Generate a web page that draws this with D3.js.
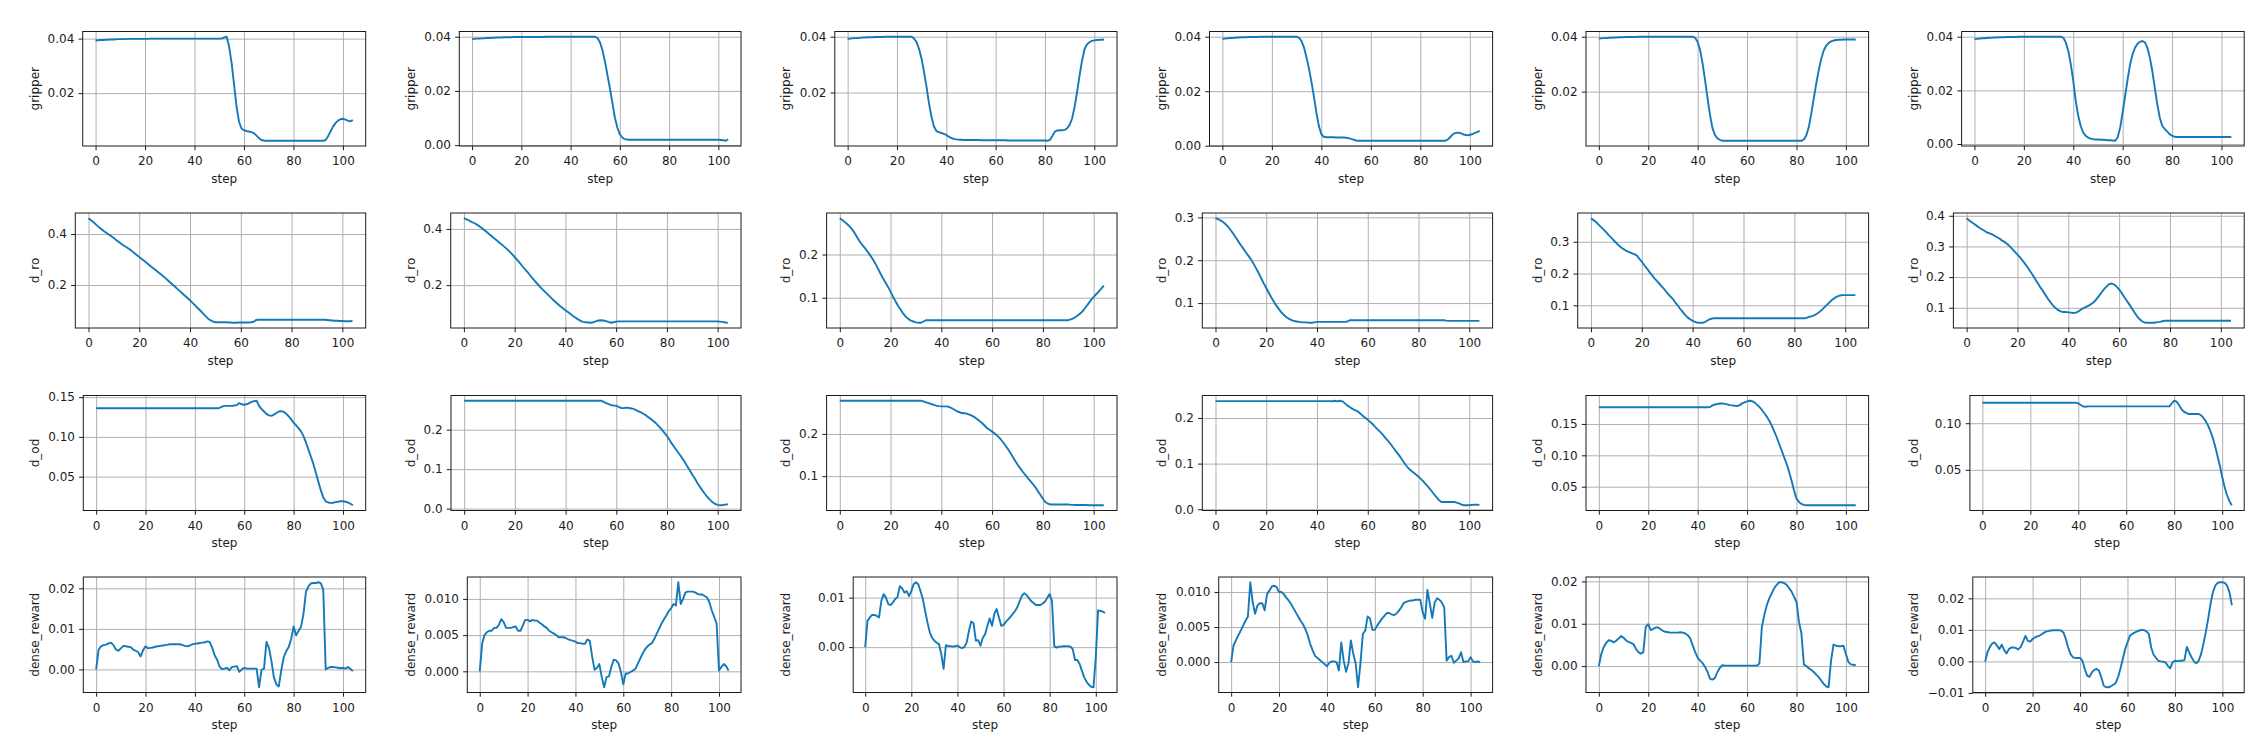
<!DOCTYPE html>
<html><head><meta charset="utf-8">
<script src="https://cdn.jsdelivr.net/npm/d3@7"></script>
<style>body{margin:0;background:#fff}svg{display:block}</style>
</head><body><svg id="c" width="2266" height="756"></svg>
<script>
const steps = d3.range(0, 105);
const metrics = ["gripper", "d_ro", "d_od", "dense_reward"];
const xLabel = "step";
const xTicks = [0, 20, 40, 60, 80, 100];

// gripper, one array per episode (columns 1..6)
const gripper1 = [.0393,.0394,.0395,.0395,.0396,.0396,.0397,.0397,.0397,.0398,
.0398,.0398,.0398,.0399,.0399,.0399,.0399,.0399,.0399,.0399,
.0399,.0399,.0400,.0400,.0400,.0400,.0400,.0400,.0400,.0400,
.0400,.0400,.0400,.0400,.0400,.0400,.0400,.0400,.0400,.0400,
.0400,.0400,.0400,.0400,.0400,.0400,.0400,.0400,.0400,.0400,
.0400,.0401,.0404,.0407,.0370,.0310,.0230,.0150,.0095,.0070,
.0064,.0061,.0059,.0057,.0053,.0045,.0035,.0028,.0026,.0025,
.0025,.0025,.0025,.0025,.0025,.0025,.0025,.0025,.0025,.0025,
.0025,.0025,.0025,.0025,.0025,.0025,.0025,.0025,.0025,.0025,
.0025,.0025,.0025,.0028,.0042,.0060,.0077,.0090,.0099,.0104,
.0106,.0103,.0099,.0096,.0101];
const gripper2 = [.0391,.0392,.0393,.0393,.0394,.0394,.0395,.0395,.0396,.0396,
.0397,.0397,.0397,.0398,.0398,.0398,.0398,.0399,.0399,.0399,
.0399,.0399,.0399,.0399,.0399,.0399,.0399,.0399,.0399,.0399,
.0400,.0400,.0400,.0400,.0400,.0400,.0400,.0400,.0400,.0400,
.0400,.0400,.0400,.0400,.0400,.0400,.0400,.0400,.0400,.0400,
.0400,.0394,.0378,.0348,.0306,.0257,.0208,.0154,.0101,.0064,
.0040,.0028,.0022,.0021,.0020,.0020,.0020,.0020,.0020,.0020,
.0020,.0020,.0020,.0020,.0020,.0020,.0020,.0020,.0020,.0020,
.0020,.0020,.0020,.0020,.0020,.0020,.0020,.0020,.0020,.0020,
.0020,.0020,.0020,.0020,.0020,.0020,.0020,.0020,.0020,.0020,
.0020,.0019,.0018,.0016,.0022];
const gripper3 = [.0392,.0393,.0394,.0395,.0395,.0396,.0397,.0397,.0398,.0398,
.0398,.0399,.0399,.0399,.0399,.0400,.0400,.0400,.0400,.0400,
.0400,.0400,.0400,.0400,.0400,.0400,.0400,.0393,.0379,.0355,
.0320,.0272,.0219,.0160,.0113,.0078,.0062,.0058,.0055,.0052,
.0048,.0042,.0037,.0034,.0032,.0031,.0031,.0030,.0030,.0030,
.0030,.0030,.0030,.0030,.0029,.0029,.0029,.0029,.0029,.0029,
.0029,.0029,.0029,.0029,.0029,.0028,.0028,.0028,.0028,.0028,
.0028,.0028,.0028,.0028,.0028,.0028,.0028,.0028,.0028,.0028,
.0028,.0027,.0030,.0044,.0060,.0064,.0065,.0065,.0066,.0072,
.0084,.0107,.0148,.0201,.0260,.0313,.0354,.0372,.0380,.0385,
.0387,.0388,.0389,.0389,.0390];
const gripper4 = [.0392,.0393,.0394,.0395,.0395,.0396,.0397,.0397,.0398,.0398,
.0398,.0399,.0399,.0399,.0399,.0400,.0400,.0400,.0400,.0400,
.0400,.0400,.0400,.0400,.0400,.0400,.0400,.0400,.0400,.0400,
.0400,.0396,.0384,.0360,.0324,.0282,.0234,.0180,.0121,.0072,
.0042,.0033,.0031,.0031,.0031,.0031,.0030,.0030,.0030,.0030,
.0029,.0028,.0025,.0022,.0019,.0018,.0018,.0018,.0018,.0018,
.0018,.0018,.0018,.0018,.0018,.0018,.0018,.0018,.0018,.0018,
.0018,.0018,.0018,.0018,.0018,.0018,.0018,.0018,.0018,.0018,
.0018,.0018,.0018,.0018,.0018,.0018,.0018,.0018,.0018,.0018,
.0018,.0022,.0031,.0041,.0046,.0048,.0047,.0043,.0040,.0038,
.0040,.0042,.0047,.0050,.0055];
const gripper5 = [.0393,.0394,.0395,.0395,.0396,.0396,.0397,.0397,.0398,.0398,
.0398,.0399,.0399,.0399,.0399,.0399,.0400,.0400,.0400,.0400,
.0400,.0400,.0400,.0400,.0400,.0400,.0400,.0400,.0400,.0400,
.0400,.0400,.0400,.0400,.0400,.0400,.0400,.0400,.0400,.0396,
.0381,.0351,.0302,.0242,.0176,.0115,.0067,.0042,.0030,.0024,
.0021,.0021,.0021,.0021,.0021,.0021,.0021,.0021,.0021,.0021,
.0021,.0021,.0021,.0021,.0021,.0021,.0021,.0021,.0021,.0021,
.0021,.0021,.0021,.0021,.0021,.0021,.0021,.0021,.0021,.0021,
.0021,.0021,.0021,.0026,.0041,.0071,.0120,.0175,.0229,.0277,
.0319,.0349,.0367,.0377,.0383,.0386,.0388,.0389,.0389,.0390,
.0390,.0390,.0390,.0390,.0390];
const gripper6 = [.0391,.0392,.0393,.0394,.0394,.0395,.0396,.0396,.0397,.0397,
.0398,.0398,.0398,.0399,.0399,.0399,.0399,.0399,.0400,.0400,
.0400,.0400,.0400,.0400,.0400,.0400,.0400,.0400,.0400,.0400,
.0400,.0400,.0400,.0400,.0400,.0400,.0396,.0378,.0347,.0297,
.0235,.0161,.0105,.0068,.0043,.0031,.0024,.0020,.0018,.0017,
.0017,.0016,.0016,.0015,.0014,.0014,.0013,.0012,.0025,.0062,
.0118,.0179,.0241,.0297,.0334,.0359,.0374,.0381,.0384,.0379,
.0359,.0322,.0272,.0210,.0149,.0099,.0068,.0056,.0047,.0037,
.0031,.0027,.0026,.0026,.0026,.0026,.0026,.0026,.0026,.0026,
.0026,.0026,.0026,.0026,.0026,.0026,.0026,.0026,.0026,.0026,
.0026,.0026,.0026,.0026,.0026];

// d_ro
const dro1 = [.462,.454,.446,.437,.428,.420,.412,.405,.398,.391,
.384,.376,.369,.361,.354,.348,.341,.334,.326,.318,
.310,.302,.294,.286,.278,.270,.262,.254,.246,.238,
.230,.221,.212,.203,.194,.185,.176,.167,.158,.149,
.140,.130,.120,.110,.100,.090,.079,.069,.062,.057,
.054,.054,.054,.054,.054,.053,.053,.052,.052,.053,
.053,.053,.053,.053,.054,.056,.063,.064,.064,.064,
.064,.064,.064,.064,.064,.064,.064,.064,.064,.064,
.064,.064,.064,.064,.064,.064,.064,.064,.064,.064,
.064,.064,.064,.064,.063,.062,.061,.060,.060,.059,
.059,.058,.058,.058,.059];
const dro2 = [.438,.434,.430,.425,.421,.416,.410,.403,.396,.389,
.381,.374,.366,.359,.351,.344,.336,.328,.319,.310,
.300,.290,.279,.268,.257,.247,.236,.225,.214,.204,
.194,.185,.176,.167,.158,.149,.141,.133,.125,.118,
.111,.104,.097,.090,.084,.078,.073,.069,.068,.067,
.066,.068,.071,.074,.075,.074,.072,.069,.066,.068,
.070,.071,.071,.071,.071,.071,.071,.071,.071,.071,
.071,.071,.071,.071,.071,.071,.071,.071,.071,.071,
.071,.071,.071,.071,.071,.071,.071,.071,.071,.071,
.071,.071,.071,.071,.071,.071,.071,.071,.071,.071,
.071,.070,.069,.067,.066];
const dro3 = [.284,.280,.275,.270,.264,.257,.248,.238,.229,.221,
.214,.206,.198,.189,.179,.168,.156,.145,.135,.125,
.114,.102,.091,.081,.072,.063,.056,.051,.047,.045,
.043,.042,.042,.045,.048,.048,.048,.048,.048,.048,
.048,.048,.048,.048,.048,.048,.048,.048,.048,.048,
.048,.048,.048,.048,.048,.048,.048,.048,.048,.048,
.048,.048,.048,.048,.048,.048,.048,.048,.048,.048,
.048,.048,.048,.048,.048,.048,.048,.048,.048,.048,
.048,.048,.048,.048,.048,.048,.048,.048,.048,.048,
.048,.050,.052,.056,.060,.065,.071,.079,.087,.095,
.102,.108,.114,.121,.128];
const dro4 = [.298,.296,.293,.289,.284,.278,.270,.262,.253,.244,
.235,.227,.218,.210,.202,.192,.181,.170,.158,.146,
.135,.124,.113,.103,.094,.086,.078,.072,.067,.063,
.060,.058,.057,.056,.055,.055,.055,.054,.054,.055,
.056,.056,.056,.056,.056,.056,.056,.056,.056,.056,
.056,.056,.057,.060,.060,.060,.060,.060,.060,.060,
.060,.060,.060,.060,.060,.060,.060,.060,.060,.060,
.060,.060,.060,.060,.060,.060,.060,.060,.060,.060,
.060,.060,.060,.060,.060,.060,.060,.060,.060,.060,
.060,.059,.0585,.0585,.0585,.0585,.0585,.0585,.0585,.0585,
.0585,.0585,.0585,.0585,.0585];
const dro5 = [.374,.368,.362,.354,.346,.338,.330,.321,.313,.304,
.296,.288,.281,.276,.271,.267,.264,.261,.257,.247,
.237,.226,.216,.205,.195,.185,.176,.167,.158,.149,
.139,.130,.122,.111,.101,.090,.080,.070,.062,.056,
.051,.048,.045,.045,.045,.048,.053,.057,.059,.059,
.059,.059,.059,.059,.059,.059,.059,.059,.059,.059,
.059,.059,.059,.059,.059,.059,.059,.059,.059,.059,
.059,.059,.059,.059,.059,.059,.059,.059,.059,.059,
.059,.059,.059,.059,.059,.061,.064,.066,.069,.074,
.080,.087,.095,.103,.111,.118,.124,.128,.131,.132,
.132,.132,.132,.132,.132];
const dro6 = [.392,.385,.379,.373,.367,.361,.356,.351,.346,.343,
.339,.335,.330,.325,.319,.314,.308,.300,.291,.282,
.273,.264,.254,.243,.232,.219,.207,.193,.180,.167,
.155,.142,.129,.118,.107,.099,.092,.088,.086,.086,
.085,.084,.083,.084,.088,.094,.099,.103,.107,.112,
.118,.127,.138,.149,.160,.169,.177,.179,.176,.169,
.160,.148,.135,.123,.111,.098,.085,.073,.063,.056,
.052,.051,.051,.051,.051,.053,.054,.056,.0575,.0575,
.0575,.0575,.0575,.0575,.0575,.0575,.0575,.0575,.0575,.0575,
.0575,.0575,.0575,.0575,.0575,.0575,.0575,.0575,.0575,.0575,
.0575,.0575,.0575,.0575,.0575];

// d_od
const dod1 = [.136,.136,.136,.136,.136,.136,.136,.136,.136,.136,
.136,.136,.136,.136,.136,.136,.136,.136,.136,.136,
.136,.136,.136,.136,.136,.136,.136,.136,.136,.136,
.136,.136,.136,.136,.136,.136,.136,.136,.136,.136,
.136,.136,.136,.136,.136,.136,.136,.136,.136,.136,
.1365,.138,.139,.139,.139,.139,.1395,.140,.1425,.141,
.1405,.141,.1425,.144,.145,.1455,.139,.135,.132,.129,
.127,.1265,.128,.130,.132,.1325,.1315,.129,.126,.122,
.118,.1145,.111,.107,.101,.093,.084,.075,.066,.055,
.044,.033,.024,.019,.0175,.017,.0172,.018,.0185,.019,
.019,.0185,.0175,.016,.014];
const dod2 = [.2734,.2734,.2734,.2734,.2734,.2734,.2734,.2734,.2734,.2734,
.2734,.2734,.2734,.2734,.2734,.2734,.2734,.2734,.2734,.2734,
.2734,.2734,.2734,.2734,.2734,.2734,.2734,.2734,.2734,.2734,
.2734,.2734,.2734,.2734,.2734,.2734,.2734,.2734,.2734,.2734,
.2734,.2734,.2734,.2734,.2734,.2734,.2734,.2734,.2734,.2734,
.2734,.2734,.2734,.2734,.2734,.2705,.2675,.265,.262,.261,
.2605,.258,.2546,.255,.256,.255,.2538,.252,.249,.246,
.243,.239,.235,.230,.225,.220,.214,.207,.200,.192,
.184,.174,.164,.155,.146,.137,.128,.118,.107,.097,
.086,.076,.065,.055,.0456,.037,.0287,.022,.016,.012,
.0093,.0084,.009,.010,.011];
const dod3 = [.2787,.2787,.2787,.2787,.2787,.2787,.2787,.2787,.2787,.2787,
.2787,.2787,.2787,.2787,.2787,.2787,.2787,.2787,.2787,.2787,
.2787,.2787,.2787,.2787,.2787,.2787,.2787,.2787,.2787,.2787,
.2787,.2787,.2785,.277,.2748,.273,.2709,.269,.267,.266,
.2654,.2654,.2654,.264,.2614,.258,.2543,.252,.2496,.249,
.248,.246,.2433,.240,.2354,.231,.226,.220,.2142,.210,
.2055,.201,.1961,.190,.1827,.175,.1661,.157,.1472,.137,
.1276,.119,.111,.1035,.096,.089,.0819,.074,.0646,.056,
.0465,.0386,.0346,.033,.033,.033,.033,.033,.033,.033,
.033,.032,.032,.0315,.0315,.0315,.0315,.0315,.031,.031,
.031,.031,.031,.031,.031];
const dod4 = [.237,.237,.237,.237,.237,.237,.237,.237,.237,.237,
.237,.237,.237,.237,.237,.237,.237,.237,.237,.237,
.237,.237,.237,.237,.237,.237,.237,.237,.237,.237,
.237,.237,.237,.237,.237,.237,.237,.237,.237,.237,
.237,.237,.237,.237,.237,.237,.2365,.2378,.2365,.2378,
.2364,.232,.227,.2235,.220,.217,.2145,.210,.205,.2005,
.1964,.191,.1862,.180,.1745,.169,.1629,.156,.1498,.143,
.1353,.128,.1207,.113,.1047,.097,.0902,.085,.0807,.076,
.0713,.066,.0604,.054,.048,.041,.0335,.027,.0204,.016,
.016,.016,.016,.016,.016,.0145,.013,.0102,.0087,.0087,
.0087,.0095,.010,.0102,.0095];
const dod5 = [.1765,.1765,.1765,.1765,.1765,.1765,.1765,.1765,.1765,.1765,
.1765,.1765,.1765,.1765,.1765,.1765,.1765,.1765,.1765,.1765,
.1765,.1765,.1765,.1765,.1765,.1765,.1765,.1765,.1765,.1765,
.1765,.1765,.1765,.1765,.1765,.1765,.1765,.1765,.1765,.1765,
.1765,.1765,.1765,.1765,.1765,.177,.1796,.181,.1817,.1825,
.1828,.182,.1812,.180,.1796,.179,.1786,.180,.1828,.1845,
.186,.187,.1865,.1844,.1807,.177,.1723,.167,.1616,.155,
.1474,.138,.1288,.118,.1077,.097,.0865,.074,.060,.0442,
.0309,.0257,.0225,.0209,.0204,.0204,.0204,.0204,.0204,.0204,
.0204,.0204,.0204,.0204,.0204,.0204,.0204,.0204,.0204,.0204,
.0204,.0204,.0204,.0204,.0204];
const dod6 = [.122,.122,.122,.122,.122,.122,.122,.122,.122,.122,
.122,.122,.122,.122,.122,.122,.122,.122,.122,.122,
.122,.122,.122,.122,.122,.122,.122,.122,.122,.122,
.122,.122,.122,.122,.122,.122,.122,.122,.122,.122,
.1213,.1195,.1181,.1177,.118,.118,.118,.118,.118,.118,
.118,.118,.118,.118,.118,.118,.118,.118,.118,.118,
.118,.118,.118,.118,.118,.118,.118,.118,.118,.118,
.118,.118,.118,.118,.118,.118,.118,.118,.118,.1213,
.1241,.1231,.1195,.1152,.1124,.111,.1099,.1099,.1099,.1099,
.1099,.1089,.1064,.1028,.0982,.0922,.0851,.0762,.0656,.055,
.0426,.0319,.023,.0167,.012];

// dense_reward
const reward1 = [0,.0049,.0057,.006,.0061,.0064,.0066,.006,.0049,.0046,
.0052,.0058,.0057,.0056,.0055,.0049,.0046,.0043,.0032,.0047,
.0057,.0052,.0053,.0054,.0056,.0057,.0058,.0059,.006,.0061,
.0062,.0062,.0062,.0062,.0062,.006,.0058,.0057,.0059,.0062,
.0063,.0064,.0065,.0066,.0067,.0069,.0068,.0054,.0035,.0024,
.0007,.0001,.0002,.0004,-.0002,.0006,.0007,.0008,-.0006,0,
.0004,.0002,.0002,.0002,.0002,.0002,-.0044,-.0001,.0002,.0068,
.0053,.0021,-.0019,-.0037,-.0042,-.0002,.003,.0045,.0055,.0075,
.0106,.0084,.0095,.0105,.0137,.0191,.0205,.0212,.0213,.0213,
.0215,.0213,.0197,0,.0004,.0006,.0006,.0005,.0004,.0003,
.0004,.0002,.0006,.0001,-.0004];
const reward2 = [0,.0038,.005,.0054,.0056,.0056,.006,.006,.0064,.0072,
.0068,.006,.006,.006,.0061,.0062,.0056,.0056,.0063,.0071,
.0071,.0069,.0071,.007,.007,.0067,.0065,.0062,.006,.0056,
.0054,.0052,.005,.0047,.0047,.0047,.0046,.0044,.0043,.0042,
.0041,.0039,.0039,.0038,.0038,.0044,.0042,.002,.0002,.0005,
.001,-.0008,-.0022,-.0008,-.0007,.0006,.0016,.0015,.0011,-.0001,
-.0018,-.0003,-.0003,-.0001,.0001,.0003,.001,.0017,.0024,.003,
.0034,.0037,.0039,.0045,.0052,.0059,.0066,.0072,.0077,.0083,
.0087,.0093,.0091,.0123,.0093,.01,.0109,.011,.011,.011,
.0109,.0107,.0106,.0106,.0104,.0102,.0095,.0084,.0075,.0066,
.0001,.0006,.001,.0007,.0001];
const reward3 = [0,.0053,.006,.0065,.0065,.0063,.006,.0093,.0107,.01,
.0087,.0085,.009,.0097,.0101,.0123,.0119,.011,.0113,.0103,
.0113,.0127,.0131,.0127,.0113,.0097,.0073,.005,.003,.0019,
.0013,.0009,.0006,-.0014,-.0044,.0004,.0002,.0002,.0001,.0002,
.0003,0,-.0002,0,.0009,.0033,.0052,.0048,.0013,.0014,
.0003,.0019,.0026,.0043,.0058,.0043,.0067,.0077,.006,.0043,
.0045,.0051,.0056,.0061,.0067,.0073,.0081,.0093,.0104,.0109,
.0105,.0099,.0093,.0089,.0085,.0085,.0085,.0088,.0092,.01,
.0107,.0093,.0002,-.0001,.0001,.0001,.0002,.0002,.0002,.0001,
-.0004,-.0026,-.0026,-.0034,-.0048,-.0061,-.007,-.0076,-.008,-.0081,
-.0021,.0074,.0073,.0072,.0069];
const reward4 = [0,.0024,.0031,.0038,.0045,.0052,.0059,.0065,.0114,.0085,
.0069,.0081,.0084,.0084,.0074,.0097,.0102,.0108,.0109,.0107,
.01,.01,.0097,.0092,.0088,.0083,.0077,.0071,.0065,.0059,
.0054,.0047,.0038,.0026,.0017,.0009,.0006,.0003,0,-.0003,
-.0006,-.0001,.0001,.0001,0,-.0012,.0028,.0002,-.0014,-.0002,
.0031,.0012,-.0002,-.0036,-.0002,.004,.0045,.0065,.0062,.0046,
.0046,.0052,.0057,.0062,.0066,.007,.007,.0068,.0067,.0069,
.0073,.0078,.0084,.0086,.0087,.0088,.0088,.0089,.0089,.0089,
.0071,.0062,.0103,.0083,.0063,.0085,.0091,.0089,.0085,.0078,
.0002,.0007,.0009,-.0001,.0002,.0005,.0014,0,.0001,.0001,
.0007,.0001,0,.0001,0];
const reward5 = [0,.0029,.0045,.0055,.0061,.006,.0056,.006,.0065,.0071,
.0067,.0061,.0057,.0055,.0052,.0041,.0033,.0029,.0033,.0093,
.0099,.0085,.0088,.0091,.0091,.0087,.0083,.0081,.008,.0079,
.0079,.0079,.0079,.008,.0079,.0077,.0073,.0065,.0049,.0033,
.002,.0013,.0007,-.0002,-.0014,-.003,-.0032,-.0028,-.0014,-.0004,
.0002,.0001,.0001,.0001,.0001,.0001,.0001,.0001,.0001,.0001,
.0001,.0001,.0001,.0001,.0001,.0006,.0093,.0121,.0144,.016,
.0172,.0184,.0192,.0198,.0198,.0196,.0192,.0184,.0176,.0164,
.0152,.0105,.0077,.0004,0,-.0005,-.0009,-.0014,-.002,-.0026,
-.0034,-.0042,-.0048,-.005,.0013,.0051,.0048,.0047,.0047,.0048,
.0029,.001,.0004,.0003,.0002];
const reward6 = [0,.0029,.0046,.0057,.006,.005,.0039,.0053,.0036,.0025,
.0039,.0044,.0044,.0042,.0038,.0046,.0063,.0081,.0065,.0063,
.0071,.0076,.0079,.0082,.0087,.0092,.0095,.0097,.0098,.0099,
.0099,.0099,.0098,.0092,.0071,.0044,.0023,.0013,.0011,.0011,
.0011,.0002,-.0024,-.0045,-.0049,-.0035,-.0027,-.0024,-.003,-.0051,
-.0077,-.0082,-.0082,-.0079,-.0074,-.0069,-.0051,-.0024,.0007,.0039,
.006,.0081,.0087,.0091,.0095,.0098,.01,.0099,.0095,.0087,
.0044,.0021,.0011,.0002,0,-.0001,-.0003,-.0014,-.0022,-.0003,
.0002,.0001,.0002,.0002,.0004,.0046,.0029,.0013,0,-.0006,
.0002,.0023,.0055,.0092,.0134,.0182,.0219,.024,.0249,.0251,
.0251,.0249,.024,.0219,.0178];

// y tick labels, one list per panel
const gripperTicks = [["0.02","0.04"],["0.00","0.02","0.04"],["0.02","0.04"],["0.00","0.02","0.04"],["0.02","0.04"],["0.00","0.02","0.04"]];
const droTicks = [["0.2","0.4"],["0.2","0.4"],["0.1","0.2"],["0.1","0.2","0.3"],["0.1","0.2","0.3"],["0.1","0.2","0.3","0.4"]];
const dodTicks = [["0.05","0.10","0.15"],["0.0","0.1","0.2"],["0.1","0.2"],["0.0","0.1","0.2"],["0.05","0.10","0.15"],["0.05","0.10"]];
const rewardTicks = [["0.00","0.01","0.02"],["0.000","0.005","0.010"],["0.00","0.01"],["0.000","0.005","0.010"],["0.00","0.01","0.02"],["\u22120.01","0.00","0.01","0.02"]];

const series = [
  [gripper1, gripper2, gripper3, gripper4, gripper5, gripper6],
  [dro1, dro2, dro3, dro4, dro5, dro6],
  [dod1, dod2, dod3, dod4, dod5, dod6],
  [reward1, reward2, reward3, reward4, reward5, reward6]
];
const yTickLabels = [gripperTicks, droTicks, dodTicks, rewardTicks];

// ---- layout (pixels) ----
const rowTB = [[31.5,146],[213,328],[395.5,510.5],[577,692.5]];
const colR = [365.7,741,1117,1492.6,1868.6,2244.2];
const colL = [[82.7,459.3,834.8,1209.5,1586,1961.6],
              [75.3,450.7,826.6,1202.3,1577.7,1953.4],
              [83.3,451,826.6,1202.3,1586,1969.9],
              [83.3,467.3,853.2,1218.7,1586,1972.8]];
const FONT = "DejaVu Sans, sans-serif";
const FS = 12;
const TXT = "#1c1c1c";
const LINE = "#1479b8";
const GRID = "#b0b0b0";

const svg = d3.select("#c");
svg.append("rect").attr("width",2266).attr("height",756).attr("fill","#fff");
const bad = [];

metrics.forEach((m, r) => {
  for (let c = 0; c < 6; c++) {
    const data = series[r][c];
    if (data.length !== 105) bad.push(m + (c+1) + ":" + data.length);
    const L = colL[r][c], R = colR[c], T = rowTB[r][0], B = rowTB[r][1];
    const x = d3.scaleLinear().domain([-5.2, 109.2]).range([L, R]);
    const [lo, hi] = d3.extent(data);
    const pad = (hi - lo) * 0.05;
    const y = d3.scaleLinear().domain([lo - pad, hi + pad]).range([B, T]);
    const labels = yTickLabels[r][c];
    const vals = labels.map(s => +s.replace("\u2212", "-"));
    const g = svg.append("g");

    // grid
    g.append("g").attr("transform", `translate(0,${B})`)
      .call(d3.axisBottom(x).tickValues(xTicks).tickSize(-(B - T)).tickFormat(""))
      .call(a => { a.select(".domain").remove(); a.selectAll("line").attr("stroke", GRID).attr("stroke-width", 1); });
    g.append("g").attr("transform", `translate(${L},0)`)
      .call(d3.axisLeft(y).tickValues(vals).tickSize(-(R - L)).tickFormat(""))
      .call(a => { a.select(".domain").remove(); a.selectAll("line").attr("stroke", GRID).attr("stroke-width", 1); });

    // series line
    g.append("path").datum(data)
      .attr("d", d3.line().x((d, i) => x(steps[i])).y(d => y(d)))
      .attr("fill", "none").attr("stroke", LINE).attr("stroke-width", 1.9)
      .attr("stroke-linejoin", "round").attr("stroke-linecap", "butt");

    // axes with ticks and labels
    const xa = g.append("g").attr("transform", `translate(0,${B})`)
      .call(d3.axisBottom(x).tickValues(xTicks).tickSize(4.2).tickSizeOuter(0).tickPadding(6.3).tickFormat(d3.format("d")));
    xa.select(".domain").remove();
    xa.attr("font-family", FONT).attr("font-size", FS);
    xa.selectAll("text").attr("fill", TXT);
    xa.selectAll("line").attr("stroke", TXT).attr("stroke-width", 1);

    const ya = g.append("g").attr("transform", `translate(${L},0)`)
      .call(d3.axisLeft(y).tickValues(vals).tickSize(4.2).tickSizeOuter(0).tickPadding(4.2).tickFormat((d, i) => labels[i]));
    ya.select(".domain").remove();
    ya.attr("font-family", FONT).attr("font-size", FS);
    ya.selectAll("text").attr("fill", TXT);
    ya.selectAll("line").attr("stroke", TXT).attr("stroke-width", 1);

    // spines
    g.append("rect").attr("x", L).attr("y", T).attr("width", R - L).attr("height", B - T)
      .attr("fill", "none").attr("stroke", TXT).attr("stroke-width", 1);

    // axis titles
    g.append("text").attr("x", (L + R) / 2).attr("y", B + 36.5)
      .attr("text-anchor", "middle").attr("font-family", FONT).attr("font-size", FS).attr("fill", TXT)
      .text(xLabel);
    const yx = 39 + 375.7 * c, yy = (T + B) / 2;
    g.append("text").attr("transform", `translate(${yx},${yy}) rotate(-90)`)
      .attr("text-anchor", "middle").attr("font-family", FONT).attr("font-size", FS).attr("fill", TXT)
      .text(m);
  }
});
if (bad.length) throw new Error("bad lengths " + bad.join(","));
</script>
</body></html>
